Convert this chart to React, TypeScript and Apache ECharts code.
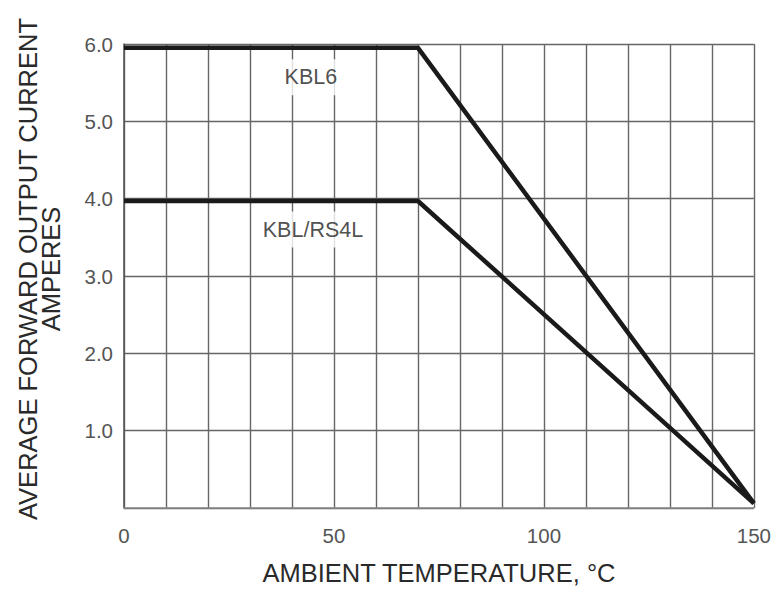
import React, { useEffect, useRef } from "react";
import * as echarts from "echarts";

// Temperature (°C) and current (A)
const kbl6Temp = [0, 70, 150];
const kbl6Current = [5.95, 5.95, 0.06];
const kbl4Temp = [0, 70, 150];
const kbl4Current = [3.97, 3.97, 0.06];

const curveLabels = ["KBL6", "KBL/RS4L"];
const labelTemp = [44.5, 45];
const labelCurrent = [5.57, 3.6];

const xTickLabels = [0, 50, 100, 150];

export default function App() {
  const ref = useRef<HTMLDivElement>(null);
  useEffect(() => {
    if (!ref.current) return;
    const chart = echarts.init(ref.current, null, { renderer: "svg" });
    const font = "'Liberation Sans', Arial, sans-serif";
    const gridColor = "#666";
    chart.setOption({
      animation: false,
      backgroundColor: "#ffffff",
      grid: { left: 124, right: 19, top: 44, bottom: 84, containLabel: false },
      xAxis: {
        type: "value",
        min: 0,
        max: 150,
        interval: 10,
        name: "AMBIENT TEMPERATURE, °C",
        nameLocation: "middle",
        nameGap: 52,
        nameTextStyle: { fontFamily: font, fontSize: 25.5, color: "#2a2a2a" },
        axisLine: { show: true, lineStyle: { color: "#888", width: 1.5 } },
        axisTick: { show: false },
        axisLabel: {
          margin: 17,
          fontFamily: font,
          fontSize: 20.5,
          color: "#555",
          formatter: (v: number) => (xTickLabels.includes(v) ? String(v) : ""),
        },
        splitLine: { show: true, lineStyle: { color: gridColor, width: 1.4 } },
      },
      yAxis: {
        type: "value",
        min: 0,
        max: 6,
        interval: 1,
        name: "AVERAGE FORWARD OUTPUT CURRENT\nAMPERES",
        nameLocation: "middle",
        nameGap: 62,
        nameTextStyle: {
          fontFamily: font,
          fontSize: 25.5,
          color: "#2a2a2a",
          lineHeight: 23,
          padding: [0, 0, 0, 14],
        },
        axisLine: { show: true, lineStyle: { color: "#555", width: 1.5 } },
        axisTick: { show: false },
        axisLabel: {
          margin: 11,
          fontFamily: font,
          fontSize: 20.5,
          color: "#555",
          formatter: (v: number) => (v === 0 ? "" : v.toFixed(1)),
        },
        splitLine: { show: true, lineStyle: { color: gridColor, width: 1.4 } },
      },
      series: [
        {
          type: "line",
          data: kbl6Temp.map((t, i) => [t, kbl6Current[i]]),
          symbol: "none",
          lineStyle: { color: "#1a1a1a", width: 4.5 },
          z: 5,
        },
        {
          type: "line",
          data: kbl4Temp.map((t, i) => [t, kbl4Current[i]]),
          symbol: "none",
          lineStyle: { color: "#1a1a1a", width: 4.5 },
          z: 5,
        },
        {
          type: "scatter",
          data: curveLabels.map((n, i) => ({ name: n, value: [labelTemp[i], labelCurrent[i]] })),
          symbolSize: 0,
          z: 6,
          label: {
            show: true,
            position: "inside",
            formatter: (p: any) => p.name,
            fontFamily: font,
            fontSize: 21.5,
            color: "#222",
            backgroundColor: "#ffffff",
            padding: [7, 4, 7, 4],
          },
        },
      ],
    });
    return () => chart.dispose();
  }, []);
  return (
    <div
      ref={ref}
      style={{ position: "fixed", left: 0, top: 0, width: 774, height: 592, background: "#fff" }}
    />
  );
}
